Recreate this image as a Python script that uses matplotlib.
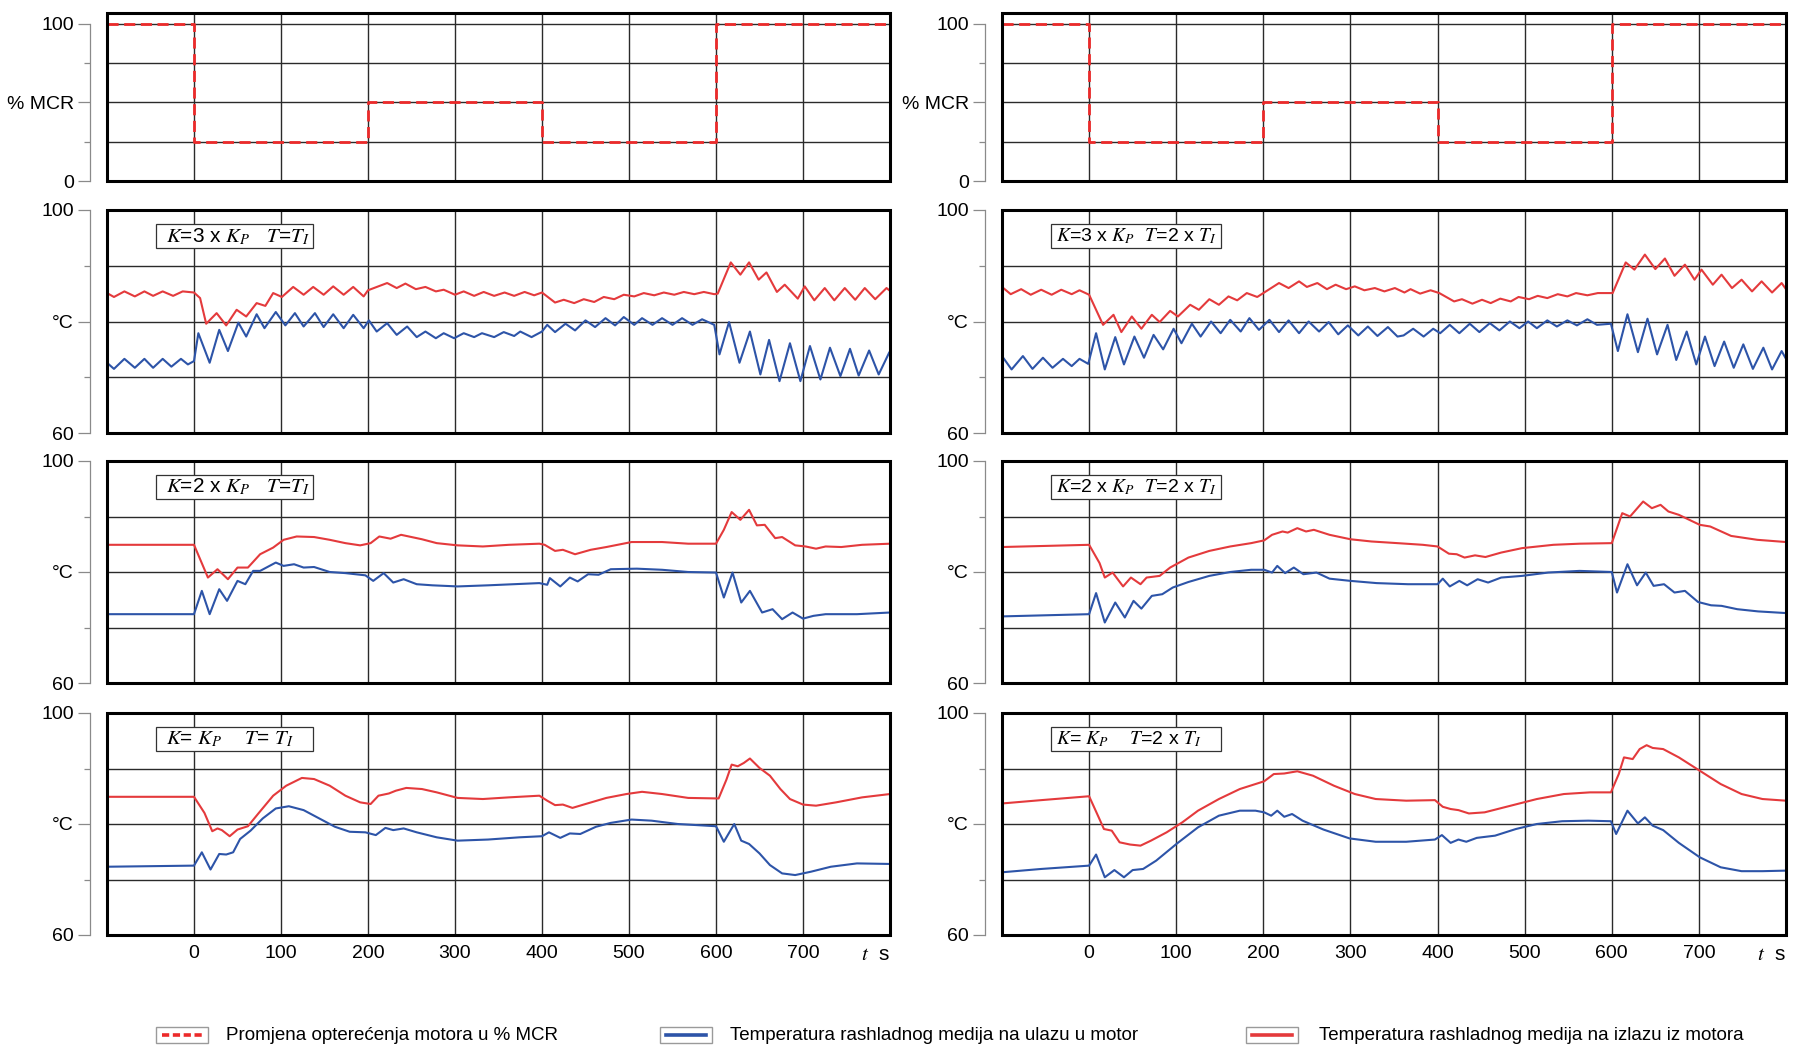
import matplotlib.pyplot as plt
from matplotlib.patches import Rectangle
from matplotlib.lines import Line2D

plt.rcParams['font.family'] = ['Liberation Sans', 'DejaVu Sans']
plt.rcParams['mathtext.fontset'] = 'stix'

# opterecenje motora (% MCR)
t_steps = [-100, 0, 200, 400, 600, 800]
mcr_steps = [100, 25, 50, 25, 100, 100]

# K = 3 x Kp, T = Ti
k3_t1_out = [(-100, 85.1), (-92, 84.4), (-80, 85.4), (-68, 84.5), (-57, 85.4), (-47, 84.6), (-36, 85.4),
             (-24, 84.6), (-13, 85.4), (0, 85.2), (7, 84.2), (14, 79.6), (26, 81.5), (37, 79.3), (49, 82.1),
             (60, 80.9), (72, 83.3), (82, 82.8), (91, 85.1), (101, 84.4), (114, 86.2), (126, 84.8), (137, 86.2),
             (149, 84.8), (160, 86.3), (172, 84.8), (183, 86.2), (195, 84.5), (200, 85.6), (222, 86.9),
             (233, 86.0), (243, 86.8), (255, 85.8), (266, 86.2), (278, 85.4), (287, 85.7), (300, 84.8),
             (310, 85.4), (322, 84.6), (333, 85.3), (345, 84.6), (357, 85.2), (368, 84.6), (380, 85.3),
             (391, 84.7), (400, 85.2), (415, 83.4), (425, 83.9), (437, 83.3), (448, 84.0), (460, 83.5),
             (471, 84.4), (483, 84.0), (494, 84.8), (506, 84.5), (517, 85.1), (529, 84.7), (540, 85.2),
             (552, 84.8), (563, 85.3), (575, 84.9), (586, 85.3), (598, 84.9), (602, 85.0), (610, 88.0),
             (617, 90.6), (628, 88.4), (638, 90.6), (649, 87.5), (658, 88.8), (670, 85.3), (679, 86.6),
             (694, 84.1), (702, 86.3), (713, 83.8), (725, 86.0), (736, 83.8), (748, 86.0), (760, 83.9),
             (771, 86.0), (783, 84.0), (796, 86.0), (800, 85.5)]
k3_t1_in = [(-100, 72.6), (-92, 71.5), (-80, 73.3), (-68, 71.7), (-57, 73.3), (-47, 71.7), (-36, 73.3),
            (-26, 71.9), (-15, 73.3), (-7, 72.3), (0, 72.9), (5, 77.9), (18, 72.6), (29, 78.5), (39, 74.7),
            (51, 79.8), (60, 77.3), (72, 81.3), (81, 78.8), (94, 81.7), (105, 79.3), (116, 81.5), (126, 79.1),
            (139, 81.5), (149, 79.0), (160, 81.3), (172, 78.8), (183, 81.2), (195, 78.8), (201, 80.2),
            (210, 78.2), (222, 79.7), (233, 77.6), (245, 79.1), (256, 77.2), (266, 78.2), (278, 77.0),
            (287, 77.9), (299, 77.0), (310, 77.9), (322, 77.2), (331, 77.9), (345, 77.2), (356, 78.1),
            (368, 77.4), (375, 78.2), (388, 77.2), (400, 78.2), (406, 79.4), (415, 78.1), (427, 79.6),
            (438, 78.4), (450, 80.2), (461, 79.0), (473, 80.6), (484, 79.3), (494, 80.8), (506, 79.4),
            (515, 80.6), (527, 79.4), (538, 80.6), (550, 79.4), (561, 80.6), (573, 79.4), (584, 80.4),
            (598, 79.4), (604, 74.1), (615, 79.9), (627, 72.6), (639, 78.2), (651, 70.5), (661, 76.7),
            (673, 69.3), (685, 76.1), (697, 69.3), (708, 75.6), (720, 69.6), (731, 75.3), (743, 70.2),
            (754, 75.1), (764, 70.3), (776, 74.8), (787, 70.5), (799, 74.4)]

# K = 3 x Kp, T = 2 x Ti
k3_t2_out = [(-100, 86.2), (-90, 84.9), (-78, 85.8), (-67, 84.8), (-55, 85.7), (-43, 84.8), (-32, 85.7),
             (-20, 84.9), (-11, 85.6), (0, 84.8), (16, 79.4), (28, 81.2), (37, 78.1), (49, 80.9), (60, 78.7),
             (72, 81.2), (81, 79.9), (93, 81.9), (102, 80.9), (116, 83.0), (126, 82.1), (138, 84.0),
             (149, 83.0), (160, 84.5), (170, 83.8), (181, 85.1), (193, 84.4), (200, 85.1), (218, 86.9),
             (229, 86.0), (241, 87.2), (250, 86.2), (262, 86.9), (273, 85.8), (283, 86.6), (295, 85.8),
             (305, 86.3), (316, 85.6), (328, 86.0), (339, 85.4), (351, 86.0), (362, 85.2), (369, 85.8),
             (380, 85.0), (392, 85.6), (402, 85.1), (419, 83.6), (428, 84.0), (440, 83.2), (451, 83.9),
             (461, 83.3), (472, 84.1), (484, 83.6), (493, 84.4), (505, 84.0), (515, 84.6), (526, 84.2),
             (538, 84.9), (549, 84.5), (559, 85.1), (572, 84.7), (584, 85.1), (601, 85.1), (616, 90.6),
             (626, 89.3), (638, 92.0), (650, 89.4), (661, 91.3), (672, 88.2), (684, 90.2), (695, 87.5),
             (703, 89.3), (716, 86.6), (726, 88.4), (738, 86.0), (749, 87.5), (761, 85.4), (772, 87.2),
             (784, 85.2), (795, 86.9), (800, 85.8)]
k3_t2_in = [(-100, 73.8), (-89, 71.4), (-76, 73.8), (-65, 71.5), (-53, 73.5), (-42, 71.7), (-30, 73.3),
            (-20, 72.0), (-11, 73.3), (-1, 72.4), (8, 77.9), (18, 71.4), (30, 77.2), (40, 72.3), (52, 77.3),
            (63, 73.5), (74, 77.6), (85, 75.0), (97, 78.7), (106, 76.1), (118, 79.6), (128, 77.3), (140, 80.0),
            (151, 77.9), (162, 80.3), (174, 78.2), (184, 80.6), (195, 78.5), (207, 80.3), (218, 78.1),
            (229, 80.2), (241, 77.9), (252, 80.0), (264, 78.2), (275, 79.9), (286, 77.7), (297, 79.3),
            (309, 77.5), (320, 79.1), (331, 77.4), (343, 79.0), (354, 77.3), (361, 77.5), (372, 78.7),
            (384, 77.3), (395, 78.7), (403, 77.9), (414, 79.4), (425, 77.9), (437, 79.6), (448, 78.1),
            (460, 79.7), (471, 78.4), (483, 80.0), (494, 78.8), (504, 80.0), (514, 78.8), (526, 80.2),
            (537, 79.1), (549, 80.2), (560, 79.3), (572, 80.4), (583, 79.4), (599, 79.6), (607, 74.7),
            (618, 81.3), (630, 74.5), (641, 80.5), (652, 74.1), (664, 79.4), (674, 73.1), (686, 78.2),
            (697, 72.3), (707, 77.3), (718, 72.0), (729, 76.4), (740, 71.7), (751, 75.9), (762, 71.5),
            (774, 75.3), (784, 71.4), (795, 74.7), (800, 73.3)]

# K = 2 x Kp, T = Ti
k2_t1_out = [(-100, 84.9), (0, 84.9), (16, 79.0), (27, 80.5), (39, 78.7), (50, 80.8), (62, 80.8), (76, 83.2),
             (91, 84.4), (103, 85.8), (118, 86.4), (138, 86.3), (156, 85.8), (174, 85.2), (191, 84.8),
             (203, 85.2), (213, 86.4), (226, 86.0), (238, 86.7), (250, 86.3), (262, 85.9), (279, 85.2),
             (303, 84.8), (332, 84.6), (362, 84.9), (397, 85.1), (403, 84.9), (415, 83.8), (424, 84.0),
             (438, 83.2), (456, 84.0), (474, 84.5), (503, 85.4), (538, 85.4), (568, 85.1), (600, 85.1),
             (609, 87.6), (618, 90.8), (628, 89.4), (638, 91.2), (647, 88.4), (656, 88.5), (668, 86.1),
             (676, 86.3), (691, 84.8), (703, 84.6), (715, 84.2), (726, 84.6), (744, 84.5), (768, 84.9),
             (800, 85.1)]
k2_t1_in = [(-100, 72.4), (0, 72.4), (9, 76.6), (18, 72.4), (29, 76.9), (38, 74.8), (50, 78.4), (59, 77.8),
            (68, 80.2), (76, 80.2), (94, 81.7), (103, 81.1), (115, 81.4), (126, 80.8), (138, 80.9), (156, 80.0),
            (174, 79.8), (197, 79.4), (206, 78.4), (218, 79.8), (229, 78.1), (241, 78.7), (256, 77.8),
            (274, 77.6), (303, 77.4), (338, 77.6), (397, 78.0), (406, 77.7), (409, 78.9), (421, 77.4),
            (432, 79.0), (441, 78.3), (453, 79.6), (465, 79.5), (479, 80.5), (509, 80.6), (538, 80.4),
            (568, 80.0), (600, 79.9), (609, 75.4), (619, 79.9), (629, 74.5), (639, 76.6), (653, 72.7),
            (665, 73.3), (676, 71.5), (688, 72.7), (700, 71.6), (712, 72.1), (726, 72.4), (762, 72.4),
            (800, 72.7)]

# K = 2 x Kp, T = 2 x Ti
k2_t2_out = [(-100, 84.5), (0, 84.9), (12, 81.6), (18, 79.0), (27, 79.9), (39, 77.4), (48, 79.0), (59, 77.8),
             (66, 79.0), (81, 79.3), (93, 80.8), (114, 82.6), (138, 83.8), (162, 84.6), (186, 85.2),
             (201, 85.7), (210, 86.7), (222, 87.3), (228, 87.1), (239, 87.9), (249, 87.3), (258, 87.6),
             (276, 86.7), (300, 85.9), (324, 85.5), (354, 85.2), (383, 84.9), (400, 84.6), (413, 83.3),
             (422, 83.2), (431, 82.6), (443, 83.0), (455, 82.7), (473, 83.5), (497, 84.3), (533, 84.9),
             (563, 85.1), (600, 85.2), (612, 90.6), (621, 90.0), (636, 92.7), (646, 91.5), (656, 92.1),
             (665, 90.9), (677, 90.3), (689, 89.4), (701, 88.5), (713, 88.2), (737, 86.5), (767, 85.8),
             (800, 85.4)]
k2_t2_in = [(-100, 72.0), (0, 72.4), (8, 76.2), (18, 70.9), (30, 74.5), (41, 71.8), (51, 74.8), (60, 73.4),
            (72, 75.7), (84, 76.0), (96, 77.2), (114, 78.2), (138, 79.3), (162, 80.0), (186, 80.4), (201, 80.4),
            (210, 79.9), (216, 81.1), (225, 79.8), (235, 80.8), (246, 79.6), (261, 79.9), (276, 78.8),
            (300, 78.4), (330, 78.0), (366, 77.8), (400, 77.8), (406, 78.8), (414, 77.4), (425, 78.4),
            (434, 77.6), (446, 78.7), (458, 78.1), (473, 79.0), (497, 79.3), (527, 79.9), (563, 80.2),
            (600, 80.0), (606, 76.3), (618, 81.4), (629, 77.6), (639, 79.9), (648, 77.5), (660, 77.8),
            (672, 76.3), (684, 76.6), (699, 74.6), (714, 74.0), (726, 73.9), (744, 73.3), (768, 72.9),
            (800, 72.6)]

# K = Kp, T = Ti
k1_t1_out = [(-100, 84.9), (0, 84.9), (12, 82.0), (21, 78.7), (27, 79.2), (32, 78.9), (41, 77.8), (50, 79.0),
             (62, 79.6), (74, 81.9), (91, 85.1), (106, 86.9), (124, 88.3), (138, 88.1), (156, 86.9), (174, 85.1),
             (191, 83.9), (203, 83.6), (212, 85.1), (224, 85.5), (232, 86.0), (244, 86.5), (262, 86.3),
             (279, 85.7), (303, 84.7), (332, 84.5), (362, 84.8), (397, 85.1), (406, 84.2), (415, 83.4),
             (424, 83.5), (435, 82.9), (450, 83.6), (474, 84.7), (497, 85.4), (515, 85.8), (538, 85.4),
             (568, 84.7), (603, 84.6), (612, 88.0), (618, 90.7), (625, 90.4), (632, 91.0), (639, 91.8),
             (650, 90.1), (662, 88.7), (674, 86.3), (685, 84.5), (700, 83.5), (715, 83.3), (738, 83.9),
             (768, 84.8), (800, 85.4)]
k1_t1_in = [(-100, 72.3), (0, 72.5), (9, 74.9), (19, 71.8), (29, 74.6), (37, 74.5), (45, 74.9), (53, 77.3),
            (65, 78.8), (79, 81.0), (94, 82.8), (109, 83.2), (126, 82.5), (144, 81.0), (162, 79.5), (179, 78.6),
            (197, 78.5), (209, 78.0), (220, 79.3), (229, 78.9), (241, 79.2), (256, 78.5), (279, 77.6),
            (303, 77.0), (338, 77.2), (374, 77.6), (400, 77.8), (408, 78.5), (421, 77.5), (432, 78.3),
            (444, 78.2), (462, 79.5), (479, 80.2), (503, 80.8), (526, 80.6), (556, 80.0), (600, 79.6),
            (609, 76.8), (621, 80.0), (629, 77.0), (638, 76.4), (650, 74.7), (662, 72.6), (676, 71.1),
            (691, 70.8), (709, 71.4), (732, 72.3), (762, 72.9), (800, 72.8)]

# K = Kp, T = 2 x Ti
k1_t2_out = [(-100, 83.7), (-55, 84.3), (0, 85.0), (11, 81.2), (17, 79.1), (26, 78.8), (35, 76.7), (47, 76.3),
             (59, 76.1), (71, 77.0), (89, 78.5), (107, 80.3), (125, 82.4), (149, 84.5), (173, 86.3), (201, 87.7),
             (212, 89.0), (224, 89.1), (239, 89.5), (257, 88.7), (281, 86.9), (305, 85.4), (329, 84.5),
             (364, 84.2), (397, 84.3), (406, 83.1), (415, 82.7), (424, 82.5), (436, 81.9), (454, 82.1),
             (484, 83.3), (514, 84.5), (545, 85.4), (575, 85.7), (599, 85.7), (608, 89.0), (614, 92.0),
             (624, 91.7), (632, 93.5), (640, 94.2), (647, 93.7), (659, 93.5), (677, 92.0), (701, 89.6),
             (725, 87.2), (749, 85.4), (773, 84.5), (800, 84.2)]
k1_t2_in = [(-100, 71.3), (-55, 71.9), (0, 72.5), (8, 74.5), (18, 70.4), (29, 71.7), (40, 70.4), (50, 71.7),
            (62, 71.9), (77, 73.4), (101, 76.5), (125, 79.4), (149, 81.5), (173, 82.4), (191, 82.4), (201, 82.1),
            (209, 81.5), (216, 82.4), (224, 81.3), (233, 81.8), (245, 80.6), (269, 79.0), (299, 77.4),
            (329, 76.8), (364, 76.8), (397, 77.2), (405, 78.0), (415, 76.6), (424, 77.2), (433, 76.8),
            (445, 77.5), (466, 77.9), (490, 79.1), (514, 80.0), (543, 80.5), (573, 80.6), (599, 80.5),
            (605, 78.2), (618, 82.4), (630, 80.1), (638, 81.2), (647, 79.7), (659, 78.9), (677, 76.6),
            (701, 74.0), (725, 72.2), (749, 71.5), (773, 71.5), (800, 71.6)]

panel_labels = [
    [r'$K$=3 x $K_P$   $T$=$T_I$', r'$K$=3 x $K_P$  $T$=2 x $T_I$'],
    [r'$K$=2 x $K_P$   $T$=$T_I$', r'$K$=2 x $K_P$  $T$=2 x $T_I$'],
    [r'$K$= $K_P$    $T$= $T_I$', r'$K$= $K_P$    $T$=2 x $T_I$'],
]
panel_data = [
    [(k3_t1_out, k3_t1_in), (k3_t2_out, k3_t2_in)],
    [(k2_t1_out, k2_t1_in), (k2_t2_out, k2_t2_in)],
    [(k1_t1_out, k1_t1_in), (k1_t2_out, k1_t2_in)],
]
legend_texts = ['Promjena opterećenja motora u % MCR',
                'Temperatura rashladnog medija na ulazu u motor',
                'Temperatura rashladnog medija na izlazu iz motora']

RED = '#e43a3c'
BLUE = '#2d54a8'
DASH_RED = '#ec2a2a'
GRID = '#2a2a2a'
TICK = '#8a8a8a'

W, H = 1809, 1047
fig = plt.figure(figsize=(W / 100, H / 100), dpi=100)

col_x = [(107, 890), (1002, 1786)]
row_y = [(13, 181), (210, 433), (461, 683), (713, 935)]
box_right = [137, 151]
label_x = [-32, -38]
label_size = [15, 14]


def make_ax(row, col):
    x0, x1 = col_x[col]
    y0, y1 = row_y[row]
    return fig.add_axes([x0 / W, 1 - y1 / H, (x1 - x0) / W, (y1 - y0) / H])


def frame(ax, ylim, major, labels, minor, hgrid):
    ax.set_xlim(-100, 800)
    ax.set_ylim(*ylim)
    for s in ['top', 'right', 'bottom']:
        ax.spines[s].set_visible(False)
    ax.spines['left'].set_position(('outward', 12))
    ax.spines['left'].set_bounds(major[0], major[-1])
    ax.spines['left'].set_color(TICK)
    ax.spines['left'].set_linewidth(0.9)
    ax.set_yticks(major)
    ax.set_yticklabels(labels)
    ax.set_yticks(minor, minor=True)
    ax.tick_params(axis='y', which='major', length=9, width=0.9, color=TICK, pad=3, labelsize=14)
    ax.tick_params(axis='y', which='minor', length=4, width=0.9, color=TICK)
    ax.set_xticks(range(0, 800, 100))
    ax.tick_params(axis='x', length=0, labelbottom=False)
    for x in range(0, 800, 100):
        ax.axvline(x, color=GRID, lw=1.0, zorder=1)
    for y in hgrid:
        ax.axhline(y, color=GRID, lw=1.0, zorder=1)
    ax.add_patch(Rectangle((0, 0), 1, 1, transform=ax.transAxes, fill=False, ec='black',
                           lw=2.2, clip_on=False, zorder=6))


# gornji red: % MCR
for col in range(2):
    ax = make_ax(0, col)
    frame(ax, (0, 107), [0, 50, 100], ['0', '% MCR', '100'], [25, 75], [25, 50, 75, 100])
    ax.step(t_steps, mcr_steps, where='post', color=DASH_RED, lw=2.0, dashes=(4, 2), zorder=3)

# temperature
for row in range(3):
    for col in range(2):
        ax = make_ax(row + 1, col)
        frame(ax, (60, 100), [60, 80, 100], ['60', '°C', '100'], [70, 90], [70, 80, 90])
        out, inn = panel_data[row][col]
        ax.plot([p[0] for p in out], [p[1] for p in out], color=RED, lw=1.5, zorder=3,
                solid_joinstyle='round')
        ax.plot([p[0] for p in inn], [p[1] for p in inn], color=BLUE, lw=1.5, zorder=3,
                solid_joinstyle='round')
        ax.add_patch(Rectangle((-44, 93.1), box_right[col] + 44, 4.4, fc='white', ec='#333',
                               lw=0.9, zorder=7))
        ax.text(label_x[col], 95.3, panel_labels[row][col], fontsize=label_size[col], ha='left',
                va='center', zorder=8)
        if row == 2:
            ax.tick_params(axis='x', labelbottom=True, labelsize=14, pad=7)
            ax.text(783, -0.045, r'$t$  s', transform=ax.get_xaxis_transform(), ha='center',
                    va='top', fontsize=15)

# legenda
legend_x = [(156, 208, 226), (660, 712, 730), (1246, 1298, 1319)]
legend_style = [(DASH_RED, (0, (2, 1))), (BLUE, '-'), (RED, '-')]
yc = 1035
for (bx0, bx1, tx), (c, ls), txt in zip(legend_x, legend_style, legend_texts):
    fig.add_artist(Rectangle((bx0 / W, 1 - (yc + 8) / H), (bx1 - bx0) / W, 16 / H,
                             transform=fig.transFigure, fill=False, ec='#9a9a9a', lw=1.0))
    fig.add_artist(Line2D([(bx0 + 6) / W, (bx1 - 6) / W], [1 - yc / H, 1 - yc / H],
                          transform=fig.transFigure, color=c, lw=2.6, ls=ls))
    fig.text(tx / W, 1 - yc / H, txt, ha='left', va='center', fontsize=13.5)

fig.savefig('out.png', dpi=100)
